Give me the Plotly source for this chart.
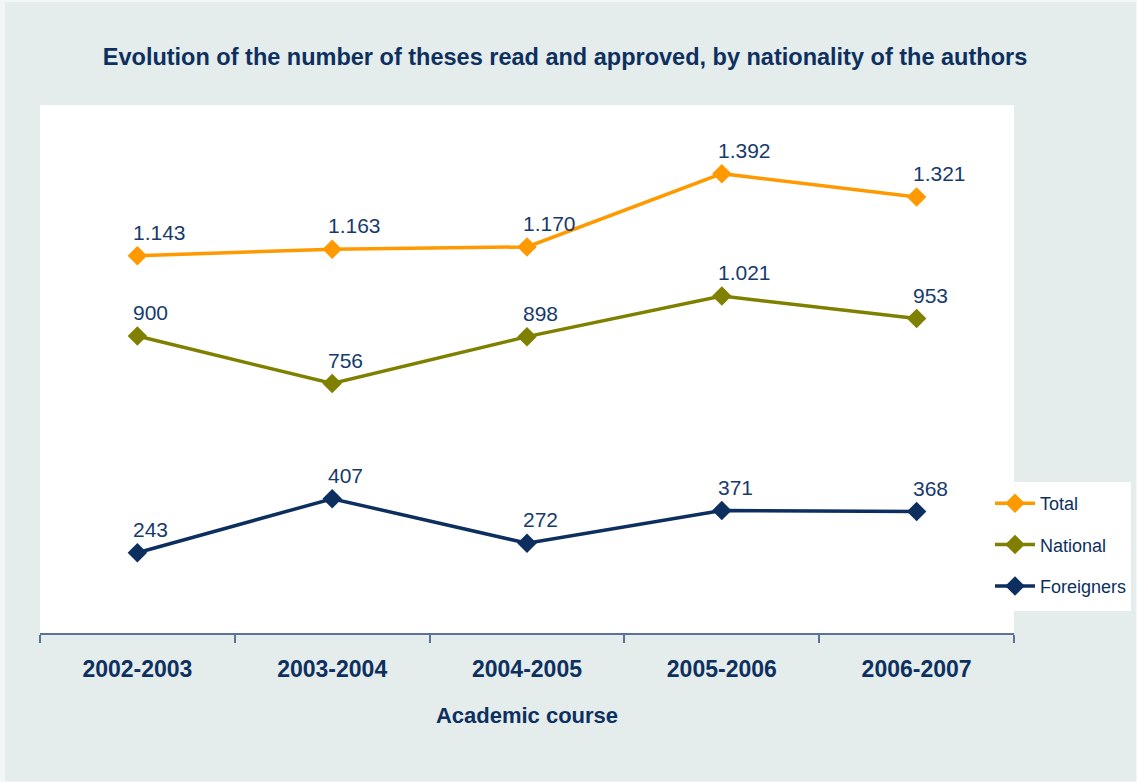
import plotly.graph_objects as go

# Theses read and approved per academic course
courses = ["2002-2003", "2003-2004", "2004-2005", "2005-2006", "2006-2007"]
total = [1143, 1163, 1170, 1392, 1321]
national = [900, 756, 898, 1021, 953]
foreigners = [243, 407, 272, 371, 368]

series = [
    ("Total", total, "#ff9900"),
    ("National", national, "#808000"),
    ("Foreigners", foreigners, "#0c2f5f"),
]

W, H = 1137, 782
ML, MR, MT, MB = 40, 123, 105, 149
PW, PH = W - ML - MR, H - MT - MB

LABEL_COLOR = "#173b6c"
DARK = "#0d305e"
BG = "#e5ecec"
AXIS = "#5a7396"
FONT = "Liberation Sans, Arial, sans-serif"


def px_to_paper_x(px):
    return (px - ML) / PW


def px_to_paper_y(py):
    return (H - MB - py) / PH


fig = go.Figure()

for name, values, color in series:
    fig.add_trace(go.Scatter(
        x=courses, y=values, name=name, legendgroup=name,
        mode="lines+markers",
        line=dict(color=color, width=3.5),
        marker=dict(symbol="diamond", size=15, color=color),
        cliponaxis=False,
    ))
    for c, v in zip(courses, values):
        fig.add_annotation(
            x=c, y=v, text=f"{v:,}".replace(",", "."),
            showarrow=False, xanchor="left", yanchor="bottom",
            xshift=-6, yshift=10,
            font=dict(family=FONT, size=21, color=LABEL_COLOR),
        )

# thin light frame around the chart area, plus the legend panel
frame = [
    (0, 0, 5, H),
    (0, 0, W, 2),
    (W - 1, 0, W, H),
    (0, H - 1, W, H),
]
shapes = []
for x0, y0, x1, y1 in frame:
    shapes.append(dict(
        type="rect", xref="paper", yref="paper",
        x0=px_to_paper_x(x0), x1=px_to_paper_x(x1),
        y0=px_to_paper_y(y0), y1=px_to_paper_y(y1),
        fillcolor="#f2f6f6", line=dict(width=0), layer="below",
    ))
shapes.append(dict(
    type="rect", xref="paper", yref="paper",
    x0=px_to_paper_x(1012), x1=px_to_paper_x(1131),
    y0=px_to_paper_y(482), y1=px_to_paper_y(611),
    fillcolor="white", line=dict(width=0), layer="below",
))

fig.update_layout(
    width=W, height=H,
    margin=dict(l=ML, r=MR, t=MT, b=MB, pad=0, autoexpand=False),
    paper_bgcolor=BG, plot_bgcolor="white",
    font=dict(family=FONT, color=DARK),
    shapes=shapes,
    title=dict(
        text="<b>Evolution of the number of theses read and approved, by nationality of the authors</b>",
        x=(106 + 1024) / 2 / W, xanchor="center",
        y=1 - 57 / H, yanchor="middle", yref="container",
        font=dict(family=FONT, size=23.5, color=DARK),
    ),
    xaxis=dict(
        type="category", range=[-0.5, 4.5],
        showline=True, linecolor=AXIS, linewidth=1.5,
        ticks="outside", tickson="boundaries", ticklen=8, tickwidth=1.5,
        tickcolor=AXIS, showgrid=False, zeroline=False,
        tickfont=dict(family=FONT, size=23, color=DARK, weight="bold"),
        ticklabelstandoff=15,
        title=dict(text="<b>Academic course</b>", standoff=26,
                   font=dict(family=FONT, size=22, color=DARK)),
    ),
    yaxis=dict(
        range=[0, 1600], visible=False, showgrid=False, zeroline=False,
    ),
    legend=dict(
        x=px_to_paper_x(990), xanchor="left",
        y=px_to_paper_y(485), yanchor="top",
        bgcolor="rgba(0,0,0,0)", borderwidth=0,
        traceorder="grouped", tracegroupgap=15,
        font=dict(family=FONT, size=18, color=DARK),
        itemwidth=40,
    ),
    showlegend=True,
)

fig.write_html("out.html")
